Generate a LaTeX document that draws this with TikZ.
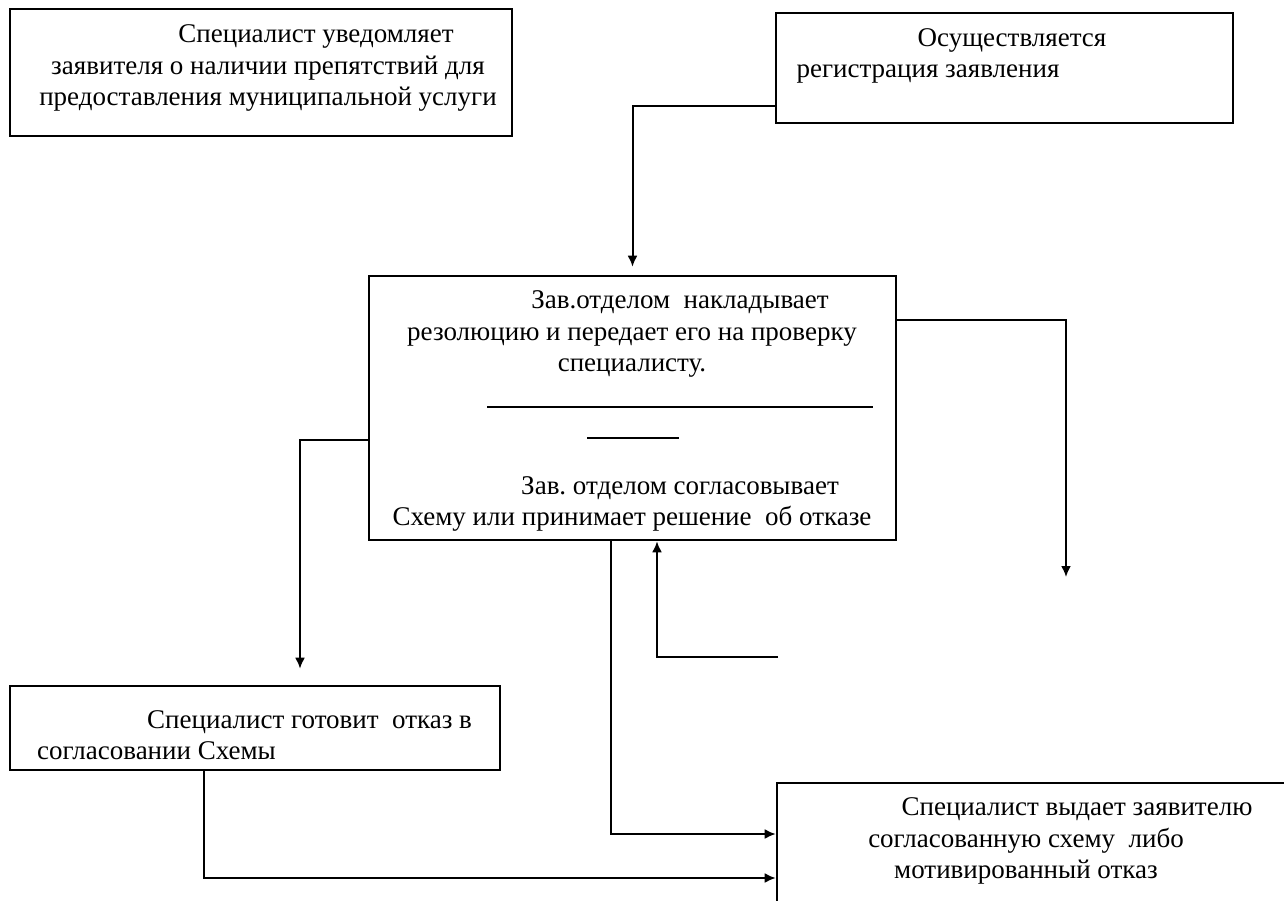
\documentclass[tikz,border=0pt]{standalone}
\usepackage{fontspec}
\setmainfont{Liberation Serif}
\usetikzlibrary{arrows.meta}
\frenchspacing
\begin{document}
\begin{tikzpicture}[x=1pt,y=-1pt,
    box/.style={draw,line width=2.6pt,inner sep=0pt},
    txt/.style={align=center,inner sep=0pt,font=\fontsize{27}{31.5}\selectfont},
    conn/.style={line width=2pt,-{Latex[length=11pt,width=10pt]}},
    sep/.style={line width=1.4pt}]
        \useasboundingbox (0,0) rectangle (1284,900);
        \clip (0,0) rectangle (1284,900);
        \fill[white] (0,0) rectangle (1284,900);
        % boxes
        \node[box,minimum width=502pt,minimum height=127pt](notify)at(261,72.5){};
        \node[box,minimum width=457pt,minimum height=110pt](reg)at(1004.5,68){};
        \node[box,minimum width=527pt,minimum height=264pt](head)at(632.5,408){};
        \node[box,minimum width=490pt,minimum height=84pt](refuse)at(255,728){};
        \node[box,minimum width=520pt,minimum height=177pt](issue)at(1037,871.5){};
        % texts
        \node[txt](notifytext)at(268,68){\hspace*{96pt}Специалист уведомляет\\заявителя о наличии препятствий для\\предоставления муниципальной услуги};
        \node[txt](regtext)at(928,56){\hspace*{168pt}Осуществляется\\регистрация заявления};
        \node[txt](headtop)at(632,334){\hspace*{96pt}Зав.отделом~ накладывает\\резолюцию и передает его на проверку\\специалисту.};
        \draw[sep](487,407)--(873,407);
        \draw[sep](587,438)--(679,438);
        \node[txt](headbot)at(632,504){\hspace*{96pt}Зав. отделом согласовывает\\Схему или принимает решение~ об отказе};
        \node[txt,align=left,anchor=west](refusetext)at(37,735){\hspace*{110pt}Специалист готовит~ отказ в\\согласовании Схемы};
        \node[txt](issuetext)at(1026,841){\hspace*{102pt}Специалист выдает заявителю\\согласованную схему~ либо\\мотивированный отказ};
        % connectors
        \coordinate(rightend)at(1066,577);
        \coordinate(backstart)at(778,657);
        \draw[conn,shorten >=8pt]([yshift=-38pt]reg.west)-|(head.north);
        \draw[conn]([yshift=88pt]head.east)-|(rightend);
        \draw[conn,shorten >=16pt]([yshift=-32pt]head.west)-|([xshift=45pt]refuse.north);
        \draw[conn]([xshift=-21.5pt]head.south)|-([yshift=37.5pt]issue.west);
        \draw[conn](backstart)-|([xshift=24.5pt]head.south);
        \draw[conn]([xshift=-51pt]refuse.south)|-([yshift=-6.5pt]issue.west);
    \end{tikzpicture}
\end{document}
